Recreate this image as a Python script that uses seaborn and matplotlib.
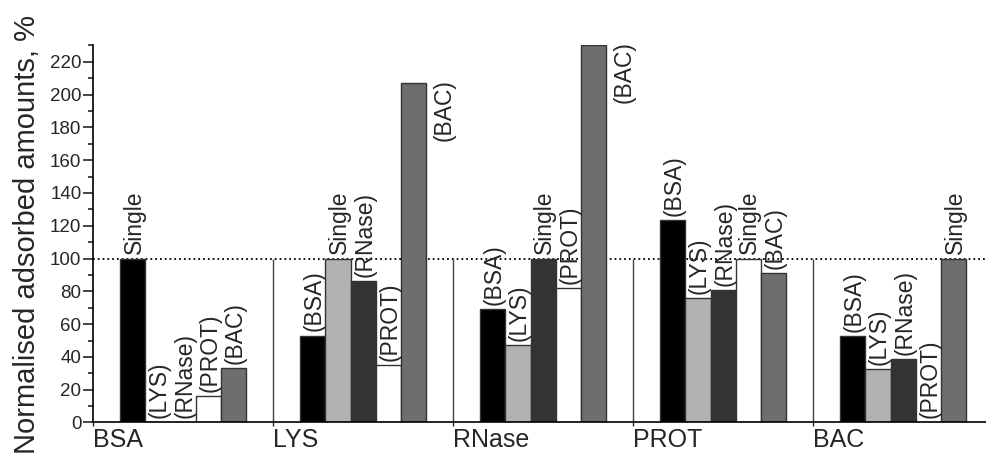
import matplotlib
matplotlib.use("Agg")
import matplotlib.pyplot as plt
import seaborn as sns
import pandas as pd
from matplotlib.ticker import MultipleLocator

# ==========================================
# DATA
# ==========================================
groups = ["BSA", "LYS", "RNase", "PROT", "BAC"]
partners = ["BSA", "LYS", "RNase", "PROT", "BAC"]

# normalised adsorbed amount of the group protein, by competing partner (%)
bsa_vals = [100, 0, 0, 16, 33]
lys_vals = [53, 100, 86.5, 35, 207]
rnase_vals = [69, 47, 100, 82, 230]
prot_vals = [123.5, 76, 81, 100, 91]
bac_vals = [52.5, 32.5, 38.5, 0, 100]

colors = {"BSA": "#000000", "LYS": "#b2b2b2", "RNase": "#333333",
          "PROT": "#ffffff", "BAC": "#6e6e6e"}

rows = []
for g, vals in zip(groups, [bsa_vals, lys_vals, rnase_vals, prot_vals, bac_vals]):
    for p, v in zip(partners, vals):
        rows.append({"group": g, "partner": p, "value": v})
df = pd.DataFrame(rows)

# ==========================================
# PLOT
# ==========================================
sns.set_style("ticks")
plt.rcParams["font.family"] = ["Liberation Sans", "DejaVu Sans"]

fig = plt.figure(figsize=(9.86, 4.63), dpi=100)
ax = fig.add_axes([0.0946, 0.0875, 0.9128, 0.8143])

ax.axhline(100, ls=":", color="black", lw=1.3, zorder=0.5)
ax.vlines([i + 0.5 for i in range(len(groups) - 1)], 0, 100,
          color="#444444", lw=1, zorder=0.5)

sns.barplot(data=df, x="group", y="value", hue="partner",
            order=groups, hue_order=partners, palette=colors,
            width=0.7, saturation=1, edgecolor="#333333", linewidth=1,
            legend=False, ax=ax, zorder=2)

# labels above each bar
for h_idx, cont in enumerate(ax.containers):
    partner = partners[h_idx]
    for g_idx, bar in enumerate(cont):
        val = bar.get_height()
        txt = "Single" if groups[g_idx] == partner else f"({partner})"
        cx = bar.get_x() + bar.get_width() / 2
        if val > 190:
            # too tall: put the label beside the bar
            ax.annotate(txt, (cx, val), xytext=(22, 3), textcoords="offset points",
                        rotation=90, ha="center", va="top", fontsize=16.5)
        else:
            ax.annotate(txt, (cx, val), xytext=(1, 3), textcoords="offset points",
                        rotation=90, ha="center", va="bottom", fontsize=16.5)

ax.set_ylim(0, 230)
ax.set_xlim(-0.5, len(groups) - 0.5)
ax.yaxis.set_major_locator(MultipleLocator(20))
ax.yaxis.set_minor_locator(MultipleLocator(10))
ax.tick_params(axis="y", which="major", length=7, width=1.2, labelsize=13.5, pad=1.5)
ax.tick_params(axis="y", which="minor", length=3.5, width=1.2)

ax.set_xticks([i - 0.5 for i in range(len(groups))])
ax.set_xticklabels(groups, ha="left")
ax.tick_params(axis="x", length=3, width=1, labelsize=18, pad=1)

ax.set_xlabel("")
ax.set_ylabel("")
fig.text(27 / 986, 1 - 235 / 463, "Normalised adsorbed amounts, %",
         rotation=90, ha="center", va="center", fontsize=21)

sns.despine(ax=ax)
for s in ["left", "bottom"]:
    ax.spines[s].set_linewidth(1.2)
    ax.spines[s].set_color("black")

fig.savefig("out.png", dpi=100)
